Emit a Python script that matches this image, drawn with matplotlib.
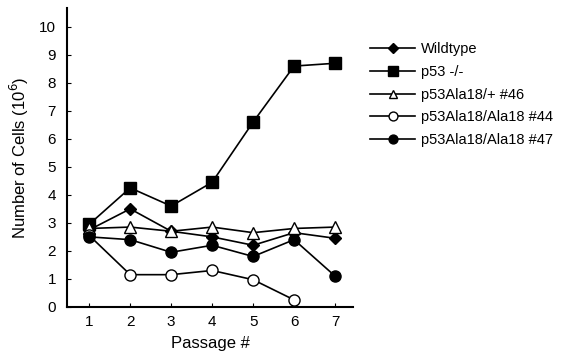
import matplotlib
matplotlib.use("Agg")
from matplotlib import pyplot as plt

plt.rcParams['font.family'] = ['Liberation Sans', 'DejaVu Sans']

# passage numbers and cell counts (10^6)
passages = [1, 2, 3, 4, 5, 6, 7]
wildtype = [2.75, 3.5, 2.7, 2.5, 2.2, 2.65, 2.45]
p53_null = [2.95, 4.25, 3.6, 4.45, 6.6, 8.6, 8.7]
ala18_het46 = [2.8, 2.85, 2.7, 2.85, 2.65, 2.8, 2.85]
ala18_hom44 = [2.55, 1.15, 1.15, 1.3, 0.97, 0.25]
ala18_hom47 = [2.5, 2.4, 1.95, 2.2, 1.8, 2.4, 1.1]
yticks = list(range(0, 11))

fig = plt.figure(figsize=(5.64, 3.56), dpi=100)
ax = fig.add_axes([0.119, 0.138, 0.507, 0.84])

k = dict(color='black', lw=1.2, markeredgecolor='black', markeredgewidth=1.0)
ax.plot(passages, wildtype, marker='D', ms=6, mfc='black', label='Wildtype', **k)
ax.plot(passages, p53_null, marker='s', ms=9, mfc='black', label='p53 -/-', **k)
ax.plot(passages, ala18_het46, marker='^', ms=8, mfc='white', label='p53Ala18/+ #46', **k)
ax.plot(passages[:6], ala18_hom44, marker='o', ms=8, mfc='white', label='p53Ala18/Ala18 #44', **k)
ax.plot(passages, ala18_hom47, marker='o', ms=8, mfc='black', label='p53Ala18/Ala18 #47', **k)

ax.set_xlim(0.46, 7.44)
ax.set_ylim(0, 10.68)
ax.set_xticks(passages)
ax.set_yticks(yticks)
ax.spines['top'].set_visible(False)
ax.spines['right'].set_visible(False)
ax.spines['left'].set_linewidth(1.5)
ax.spines['bottom'].set_linewidth(1.5)
ax.tick_params(axis='both', direction='in', length=3, labelsize=11)
ax.tick_params(axis='y', pad=8)
ax.tick_params(axis='x', pad=6)

ax.set_xlabel('Passage #', fontsize=12, labelpad=5)
ax.set_ylabel('Number of Cells (10$^6$)', fontsize=12, labelpad=6)

ax.legend(loc='upper left', bbox_to_anchor=(1.06, 0.885), frameon=False,
          fontsize=10.5, handlelength=3.1, handletextpad=0.35, labelspacing=0.6,
          borderaxespad=0, borderpad=0, markerscale=0.8)

fig.savefig('out.png', dpi=100)
